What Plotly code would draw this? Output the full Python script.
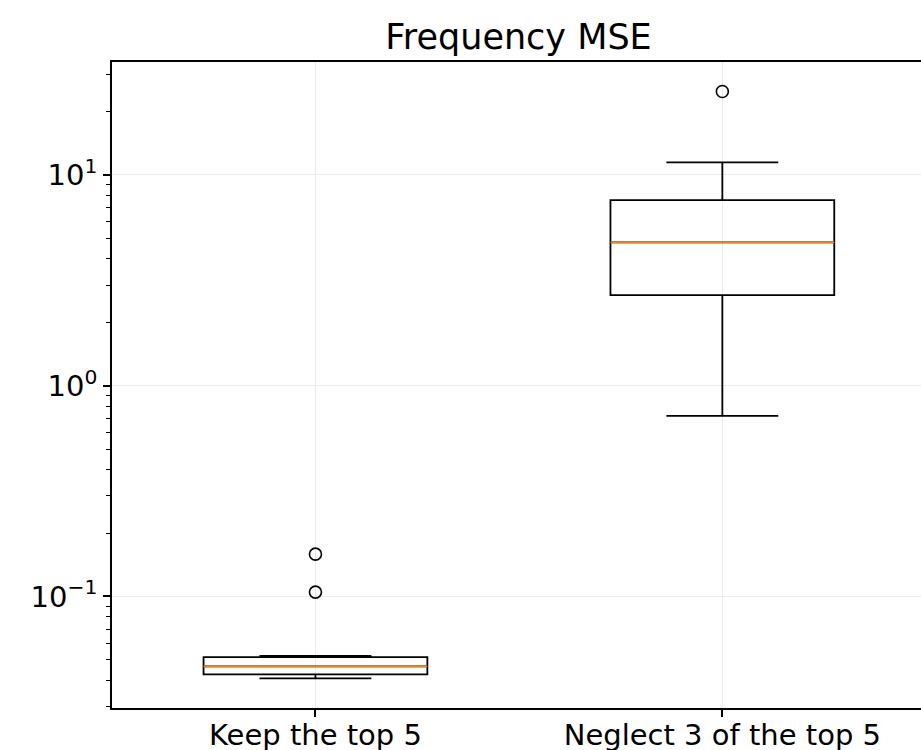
import plotly.graph_objects as go
import math

categories = ["Keep the top 5", "Neglect 3 of the top 5"]
positions = [1, 2]
q1 = [0.0427, 2.69]
median = [0.0466, 4.78]
q3 = [0.0516, 7.59]
lower_whisker = [0.0409, 0.7185]
upper_whisker = [0.0522, 11.45]
outlier_pos = [1, 1, 2]
outlier_vals = [0.1588, 0.1049, 24.85]
ytick_vals = [0.1, 1, 10]
ytick_text = ["10<sup>−1</sup>", "10<sup>0</sup>", "10<sup>1</sup>"]

FONT = "DejaVu Sans"
W, H = 921, 750

fig = go.Figure()
fig.add_trace(go.Box(
    x=positions, q1=q1, median=median, q3=q3,
    lowerfence=lower_whisker, upperfence=upper_whisker,
    width=0.55, whiskerwidth=0.5,
    line=dict(color="black", width=1.8),
    fillcolor="rgba(0,0,0,0)", boxpoints=False, showlegend=False,
    hoverinfo="skip",
))
# orange median lines
fig.add_trace(go.Box(
    x=positions, q1=median, median=median, q3=median,
    lowerfence=median, upperfence=median,
    width=0.55, whiskerwidth=0,
    line=dict(color="#ff7f0e", width=1.8),
    fillcolor="rgba(0,0,0,0)", boxpoints=False, showlegend=False,
    hoverinfo="skip",
))
fig.add_trace(go.Scatter(
    x=outlier_pos, y=outlier_vals, mode="markers",
    marker=dict(symbol="circle-open", size=12, color="black", line=dict(width=1.6)),
    showlegend=False, hoverinfo="skip",
))

fig.update_layout(
    width=W, height=H,
    margin=dict(l=112, r=0, t=62, b=42, autoexpand=False),
    paper_bgcolor="white", plot_bgcolor="white",
    boxmode="overlay",
    font=dict(family=FONT, size=29, color="black"),
    title=dict(text="Frequency MSE", font=dict(family=FONT, size=35, color="black"),
               x=518.5 / W, xref="container", xanchor="center",
               y=1 - 37 / H, yref="container", yanchor="middle"),
)
fig.update_xaxes(
    range=[0.5, 2 + (921 - 722.3) / 407],
    tickvals=positions, ticktext=categories,
    showgrid=True, gridcolor="#ebebeb", gridwidth=1.3,
    showline=True, linecolor="black", linewidth=1.6, mirror=True,
    ticks="outside", ticklen=7, tickwidth=1.6, tickcolor="black",
    ticklabelstandoff=-7,
    zeroline=False, automargin=False,
)
fig.update_yaxes(
    type="log",
    range=[math.log10(0.02958), math.log10(34.3)],
    tickvals=ytick_vals, ticktext=ytick_text,
    showgrid=True, gridcolor="#ebebeb", gridwidth=1.3,
    showline=True, linecolor="black", linewidth=1.6, mirror=False,
    ticks="outside", ticklen=7, tickwidth=1.6, tickcolor="black",
    minor=dict(ticks="outside", ticklen=4, tickwidth=1.2, tickcolor="black",
               dtick="D1", showgrid=False),
    zeroline=False, automargin=False,
)

# remove the browser's default 8px body margin so the figure fills the window
fig.write_html("out.html", config={"displayModeBar": False},
               post_script="document.body.style.margin='0px';")
